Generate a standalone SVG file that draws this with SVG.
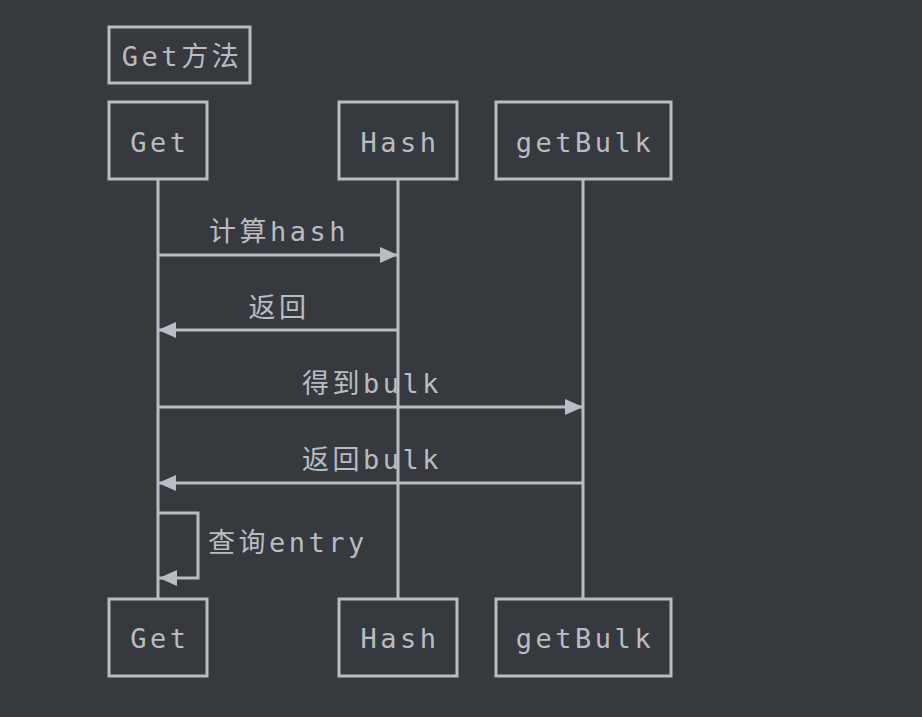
<svg xmlns="http://www.w3.org/2000/svg" width="922" height="717" viewBox="0 0 922 717">
<defs>
<style>
.box{fill:none;stroke:#b9bcc2;stroke-width:3}
.line{fill:none;stroke:#b9bcc2;stroke-width:3}
.t{font-family:"DejaVu Sans Mono","Noto Sans CJK SC",monospace;font-size:27px;fill:#b9bcc2;letter-spacing:3.5px;text-anchor:middle}
.l{font-family:"DejaVu Sans Mono","Noto Sans CJK SC",monospace;font-size:27px;fill:#b9bcc2;letter-spacing:3.5px}
</style>
<marker id="ah" viewBox="0 0 18 16" refX="18" refY="8" markerWidth="18" markerHeight="16" markerUnits="userSpaceOnUse" orient="auto">
<path d="M0,0 L18,8 L0,16 Z" fill="#b9bcc2"/>
</marker>
</defs>
<rect width="922" height="717" fill="#36393e"/>
<g id="title">
<rect class="box" x="109" y="27" width="141" height="56"/>
<text class="t" x="182" y="66">Get方法</text>
</g>
<g id="lifelines">
<line class="line" x1="158" y1="179" x2="158" y2="599"/>
<line class="line" x1="398" y1="179" x2="398" y2="599"/>
<line class="line" x1="583" y1="179" x2="583" y2="599"/>
</g>
<g id="node-get-top">
<rect class="box" x="109" y="102" width="98" height="77"/>
<text class="t" x="160" y="152">Get</text>
</g>
<g id="node-hash-top">
<rect class="box" x="339" y="102" width="118" height="77"/>
<text class="t" x="400" y="152">Hash</text>
</g>
<g id="node-getbulk-top">
<rect class="box" x="496" y="102" width="175" height="77"/>
<text class="t" x="585" y="152">getBulk</text>
</g>
<g id="node-get-bottom">
<rect class="box" x="109" y="599" width="98" height="77"/>
<text class="t" x="160" y="648">Get</text>
</g>
<g id="node-hash-bottom">
<rect class="box" x="339" y="599" width="118" height="77"/>
<text class="t" x="400" y="648">Hash</text>
</g>
<g id="node-getbulk-bottom">
<rect class="box" x="496" y="599" width="175" height="77"/>
<text class="t" x="585" y="648">getBulk</text>
</g>
<g id="connectors">
<line class="line" x1="158" y1="255" x2="398" y2="255" marker-end="url(#ah)"/>
<text class="t" x="279" y="241">计算hash</text>
<line class="line" x1="398" y1="330" x2="158" y2="330" marker-end="url(#ah)"/>
<text class="t" x="279" y="317">返回</text>
<line class="line" x1="158" y1="407" x2="583" y2="407" marker-end="url(#ah)"/>
<text class="t" x="372" y="393">得到bulk</text>
<line class="line" x1="583" y1="483" x2="158" y2="483" marker-end="url(#ah)"/>
<text class="t" x="372" y="469">返回bulk</text>
<path class="line" d="M158,513 H198 V578 H159" marker-end="url(#ah)"/>
<text class="l" x="208" y="552">查询entry</text>
</g>
</svg>
